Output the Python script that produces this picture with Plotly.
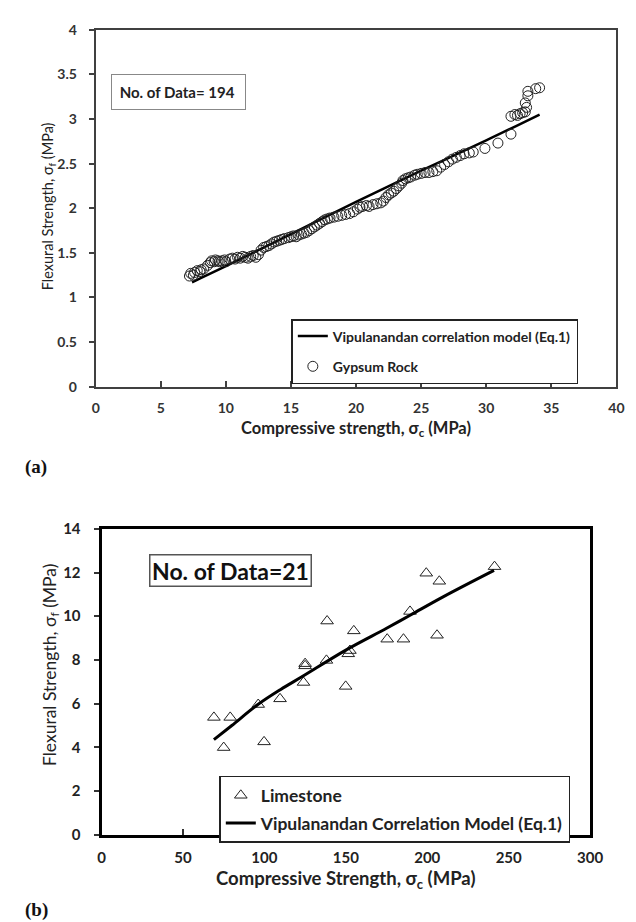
import plotly.graph_objects as go

W, H = 636, 922

# ---------------- (a) Gypsum rock ----------------
gyp_x = [7.2, 7.3, 7.5, 7.6, 7.8, 8.0, 8.1, 8.3,
         8.6, 8.8, 8.9, 9.1, 9.2, 9.4, 9.5, 9.7, 9.9, 10.0,
         10.3, 10.5, 10.7, 10.9, 11.1, 11.3, 11.5, 11.7, 11.9, 12.1, 12.3, 12.5,
         12.7, 12.9, 13.1, 13.3, 13.5, 13.7, 13.9, 14.1, 14.3, 14.5,
         14.8, 15.0, 15.2, 15.4, 15.6, 15.8, 16.0, 16.2, 16.4,
         16.6, 16.8, 17.0, 17.2, 17.4, 17.6, 17.8, 18.0, 18.3, 18.6,
         18.9, 19.2, 19.5, 19.8, 20.1, 20.3, 20.5, 20.8, 21.0, 21.3, 21.6, 21.9, 22.1,
         22.3, 22.5, 22.7, 22.9, 23.1, 23.3, 23.5, 23.6, 23.8, 24.0,
         24.2, 24.5, 24.7, 25.0, 25.3, 25.6, 25.9, 26.2,
         26.5, 26.8, 27.1, 27.4, 27.7, 28.0, 28.3, 28.7, 29.0,
         29.9, 30.9, 31.9,
         31.9, 32.2, 32.4, 32.6, 32.8, 33.0, 33.1, 33.0, 33.2, 33.2, 33.8, 34.1]
gyp_y = [1.24, 1.27, 1.25, 1.28, 1.30, 1.29, 1.31, 1.32,
         1.36, 1.39, 1.41, 1.40, 1.42, 1.41, 1.40, 1.41, 1.42, 1.40,
         1.43, 1.44, 1.43, 1.45, 1.44, 1.46, 1.45, 1.44, 1.46, 1.47, 1.45, 1.48,
         1.53, 1.56, 1.57, 1.58, 1.60, 1.62, 1.63, 1.64, 1.65, 1.66,
         1.67, 1.68, 1.69, 1.68, 1.70, 1.71, 1.72, 1.73, 1.75,
         1.77, 1.79, 1.81, 1.83, 1.85, 1.87, 1.88, 1.89, 1.90, 1.91,
         1.92, 1.93, 1.94, 1.96, 1.99, 2.01, 2.02, 2.03, 2.02, 2.04, 2.05, 2.06, 2.08,
         2.12, 2.15, 2.17, 2.19, 2.22, 2.25, 2.28, 2.31, 2.33, 2.34,
         2.35, 2.37, 2.38, 2.39, 2.40, 2.40, 2.41, 2.42,
         2.46, 2.49, 2.52, 2.55, 2.57, 2.59, 2.61, 2.62, 2.63,
         2.67, 2.73, 2.83,
         3.03, 3.05, 3.04, 3.06, 3.07, 3.08, 3.13, 3.18, 3.26, 3.31, 3.34, 3.35]
gyp_model_x = [7.4, 10, 15, 20, 25, 30, 34.1]
gyp_model_y = [1.17, 1.35, 1.71, 2.07, 2.42, 2.76, 3.05]

# ---------------- (b) Limestone ----------------
lime_x = [69.0, 79.0, 75.0, 96.2, 99.8, 109.6, 124.0, 125.0, 125.0, 138.1, 138.5,
          149.9, 151.5, 152.5, 154.9, 175.4, 185.4, 189.4, 199.4, 207.4, 206.0, 241.3]
lime_y = [5.37, 5.37, 3.99, 5.96, 4.25, 6.22, 6.97, 7.83, 7.73, 7.98, 9.78,
          6.79, 8.28, 8.43, 9.33, 8.95, 8.95, 10.22, 11.97, 11.60, 9.13, 12.27]
lime_model_x = [69, 80, 96, 110, 123.5, 150, 175, 190, 210, 241]
lime_model_y = [4.35, 5.00, 5.96, 6.65, 7.25, 8.45, 9.45, 10.07, 10.90, 12.10]

FONT = "Lato"
fig = go.Figure()

fig.add_trace(go.Scatter(x=gyp_model_x, y=gyp_model_y, mode="lines",
                         line=dict(color="black", width=2.5, shape="spline"),
                         name="Vipulanandan correlation model (Eq.1)", legendgroup="a1",
                         xaxis="x", yaxis="y", legend="legend"))
fig.add_trace(go.Scatter(x=gyp_x, y=gyp_y, mode="markers",
                         marker=dict(symbol="circle-open", size=10, color="#222",
                                     line=dict(width=1)),
                         name="Gypsum Rock", legendgroup="a2",
                         xaxis="x", yaxis="y", legend="legend"))

fig.add_trace(go.Scatter(x=lime_x, y=lime_y, mode="markers",
                         marker=dict(symbol="triangle-up-open", size=11, color="#222",
                                     line=dict(width=1)),
                         name="Limestone", legendgroup="b1",
                         xaxis="x2", yaxis="y2", legend="legend2"))
fig.add_trace(go.Scatter(x=lime_model_x, y=lime_model_y, mode="lines",
                         line=dict(color="black", width=3, shape="spline"),
                         name="Vipulanandan Correlation Model (Eq.1)", legendgroup="b2",
                         xaxis="x2", yaxis="y2", legend="legend2"))

def px_x(p):
    return p / W

def px_y(p):
    return 1 - p / H

tick_font_a = dict(family=FONT, size=14, color="#333", weight="bold")
tick_font_b = dict(family=FONT, size=15, color="#222", weight="bold")

fig.update_layout(
    width=W, height=H, margin=dict(l=0, r=0, t=0, b=0),
    paper_bgcolor="white", plot_bgcolor="white",
    showlegend=True,
    xaxis=dict(domain=[px_x(86), px_x(621)], range=[0, 40], dtick=5,
               showline=True, mirror=True, linecolor="#404040", linewidth=2,
               ticks="inside", ticklen=6, tickwidth=2, tickcolor="#404040",
               showgrid=False, zeroline=False, tickfont=tick_font_a,
               ticklabelstandoff=8, anchor="y"),
    yaxis=dict(domain=[px_y(376), px_y(12)], range=[0, 4], dtick=0.5,
               showline=True, mirror=True, linecolor="#404040", linewidth=2,
               ticks="outside", ticklen=5, tickwidth=2, tickcolor="#404040",
               showgrid=False, zeroline=False, tickfont=tick_font_a,
               ticklabelstandoff=9, anchor="x"),
    xaxis2=dict(domain=[px_x(92), px_x(594)], range=[0, 300], dtick=50,
                showline=True, mirror=True, linecolor="black", linewidth=3,
                ticks="inside", ticklen=6, tickwidth=2, tickcolor="#333",
                showgrid=False, zeroline=False, tickfont=tick_font_b,
                ticklabelstandoff=7, anchor="y2"),
    yaxis2=dict(domain=[px_y(833), px_y(521)], range=[0, 14], dtick=2,
                showline=True, mirror=True, linecolor="black", linewidth=3,
                ticks="outside", ticklen=5, tickwidth=2, tickcolor="#333",
                showgrid=False, zeroline=False, tickfont=tick_font_b,
                ticklabelstandoff=10, anchor="x2"),
    legend=dict(x=px_x(287), y=px_y(307), xanchor="left", yanchor="top",
                bordercolor="#222", borderwidth=1.5, bgcolor="white",
                font=dict(family=FONT, size=14, color="#222", weight="bold"),
                itemwidth=30, tracegroupgap=9),
    legend2=dict(x=px_x(213), y=px_y(773), xanchor="left", yanchor="top",
                 bordercolor="#222", borderwidth=1.5, bgcolor="white",
                 font=dict(family=FONT, size=17.5, color="#222", weight="bold"),
                 itemwidth=30, tracegroupgap=2),
)

ann = []
# box annotations
ann.append(dict(text="&nbsp;No. of Data= 194", x=px_x(102), y=px_y(57), xref="paper", yref="paper",
                xanchor="left", yanchor="top", showarrow=False, align="left",
                width=125, height=26, borderpad=4, bordercolor="#888", borderwidth=1,
                bgcolor="white", font=dict(family=FONT, size=15, color="#222", weight="bold")))
ann.append(dict(text="No. of Data=21", x=px_x(224.5), y=px_y(563), xref="paper", yref="paper",
                xanchor="center", yanchor="middle", showarrow=False,
                width=160, height=30, borderpad=0, bordercolor="#555", borderwidth=1.5,
                bgcolor="white", font=dict(family=FONT, size=23, color="#111", weight="bold")))
# axis titles
ann.append(dict(text="Compressive strength, σ<sub>c</sub> (MPa)", x=px_x(353.5), y=px_y(419),
                xref="paper", yref="paper", xanchor="center", yanchor="middle", showarrow=False,
                font=dict(family=FONT, size=16.5, color="#222", weight="bold")))
ann.append(dict(text="Compressive Strength, σ<sub>c</sub> (MPa)", x=px_x(343), y=px_y(879),
                xref="paper", yref="paper", xanchor="center", yanchor="middle", showarrow=False,
                font=dict(family=FONT, size=18.5, color="#222", weight="bold")))
ann.append(dict(text="Flexural Strength, σ<sub>f</sub> (MPa)", x=px_x(37), y=px_y(192),
                xref="paper", yref="paper", xanchor="center", yanchor="middle", showarrow=False,
                textangle=-90, font=dict(family=FONT, size=14.5, color="#222")))
ann.append(dict(text="Flexural Strength, σ<sub>f</sub> (MPa)", x=px_x(40), y=px_y(660),
                xref="paper", yref="paper", xanchor="center", yanchor="middle", showarrow=False,
                textangle=-90, font=dict(family=FONT, size=17.5, color="#222")))
# panel labels
ann.append(dict(text="<b>(a)</b>", x=px_x(11), y=px_y(458), xref="paper", yref="paper",
                xanchor="left", yanchor="middle", showarrow=False,
                font=dict(family="Liberation Serif", size=19, color="#111")))
ann.append(dict(text="<b>(b)</b>", x=px_x(11), y=px_y(910), xref="paper", yref="paper",
                xanchor="left", yanchor="middle", showarrow=False,
                font=dict(family="Liberation Serif", size=19, color="#111")))
fig.update_layout(annotations=ann)

fig.write_html("out.html")
